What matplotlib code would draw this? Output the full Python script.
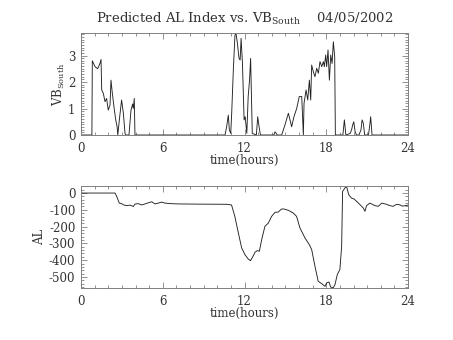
import matplotlib
matplotlib.use('Agg')
import matplotlib.pyplot as plt
from matplotlib.ticker import MultipleLocator

# ---- data ----
vb_hours = [0.0, 0.80, 0.83, 1.03, 1.22, 1.39, 1.47, 1.52, 1.64, 1.76, 1.88, 2.00, 2.13,
            2.20, 2.30, 2.45, 2.55, 2.65, 2.70, 2.84, 2.98, 3.11, 3.23, 3.28, 3.52, 3.67,
            3.79, 3.84, 3.91, 3.96,
            10.57, 10.69, 10.81, 10.89, 10.99, 11.06, 11.18, 11.30, 11.38, 11.48, 11.60,
            11.68, 11.75, 11.85, 11.97, 12.05, 12.17, 12.27, 12.37, 12.45, 12.50, 12.57,
            12.87, 12.97, 13.07, 13.17,
            14.16, 14.24, 14.41, 14.73, 14.97, 15.22, 15.34, 15.46, 15.63, 15.83, 16.02,
            16.20, 16.32, 16.37, 16.52, 16.64, 16.76, 16.86, 16.93, 17.05, 17.17, 17.30,
            17.42, 17.54, 17.67, 17.79, 17.86, 17.96, 18.03, 18.13, 18.23, 18.33, 18.43,
            18.52, 18.62, 18.67,
            19.22, 19.33, 19.44, 19.76, 19.86, 19.94, 20.02, 20.12, 20.22, 20.40, 20.55,
            20.63, 20.72, 20.82, 21.10, 21.20, 21.26, 21.36, 24.0]
vb_values = [0.0, 0.0, 2.80, 2.58, 2.50, 2.70, 2.85, 1.70, 1.57, 1.26, 1.38, 0.94, 1.13,
             2.07, 1.57, 0.94, 0.57, 0.31, 0.0, 0.69, 1.32, 0.82, 0.06, 0.0, 0.0, 0.94,
             1.17, 1.00, 1.38, 0.0,
             0.0, 0.31, 0.75, 0.19, 0.06, 0.82, 2.45, 3.77, 3.82, 3.46, 2.89,
             2.83, 3.65, 2.70, 0.57, 0.69, 0.06, 1.45, 2.07, 2.89, 1.70, 0.06,
             0.0, 0.69, 0.31, 0.0,
             0.0, 0.12, 0.0, 0.0, 0.38, 0.82, 0.57, 0.31, 0.69, 1.00, 1.45,
             1.45, 0.0, 1.20, 1.70, 1.32, 2.07, 1.32, 2.64, 2.39, 2.20, 2.52,
             2.33, 2.77, 2.58, 2.77, 2.58, 3.02, 2.58, 3.21, 2.07, 3.02, 2.70,
             3.52, 2.96, 0.0,
             0.0, 0.57, 0.0, 0.06, 0.20, 0.38, 0.50, 0.12, 0.0, 0.0, 0.20,
             0.57, 0.45, 0.0, 0.0, 0.40, 0.69, 0.0, 0.0]

al_hours = [0.0, 2.50, 2.62, 2.81, 2.98, 3.10, 3.35, 3.60, 3.84, 3.96, 4.20, 4.45, 4.70,
            4.95, 5.19, 5.43, 5.67, 5.92, 6.16, 6.41, 6.80, 7.26, 8.50, 10.68, 11.05,
            11.29, 11.55, 11.79, 12.03, 12.27, 12.44, 12.60, 12.77, 12.94, 13.09, 13.26,
            13.50, 13.75, 13.99, 14.24, 14.48, 14.72, 14.89, 15.22, 15.58, 15.82, 16.07,
            16.44, 16.76, 16.93, 17.17, 17.41, 17.66, 17.91, 18.03, 18.20, 18.32, 18.51,
            18.64, 18.81, 19.00, 19.13, 19.20, 19.37, 19.49, 19.65, 19.85, 20.05, 20.36,
            20.72, 20.84, 20.96, 21.20, 21.57, 21.82, 22.07, 22.43, 22.67, 22.91, 23.17,
            23.38, 23.60, 24.00]
al_values = [0, 0, -20, -60, -63, -70, -75, -72, -80, -66, -63, -71, -65,
             -58, -52, -65, -60, -54, -60, -62, -64, -65, -66, -67, -71,
             -139, -238, -327, -367, -393, -403, -381, -353, -343, -347, -278,
             -198, -179, -139, -115, -113, -95, -95, -103, -119, -139, -208,
             -268, -308, -337, -436, -526, -540, -556, -536, -530, -560, -565,
             -546, -486, -456, -317, 10, 30, 40, -10, -30, -36, -60,
             -89, -109, -75, -60, -75, -79, -60, -67, -75, -79, -67,
             -70, -78, -72]

x_ticks = [0, 6, 12, 18, 24]
vb_ticks = [0, 1, 2, 3]
al_ticks = [0, -100, -200, -300, -400, -500]
title_text = r'Predicted AL Index vs. VB$_{\mathrm{South}}$    04/05/2002'
x_label = 'time(hours)'
vb_label = r'VB$_{\mathrm{South}}$'
al_label = 'AL'

plt.rcParams['font.family'] = ['DejaVu Serif']
plt.rcParams['mathtext.fontset'] = 'dejavuserif'
plt.rcParams['axes.unicode_minus'] = False

W, H = 453, 340
fig = plt.figure(figsize=(W / 100, H / 100), dpi=100)
ax1 = fig.add_axes([81 / W, 1 - 135 / H, 327 / W, 102 / H])
ax2 = fig.add_axes([81 / W, 1 - 288 / H, 327 / W, 102 / H])

text_c = '#333333'
line_c = '#222222'
frame_c = '#808080'

ax1.plot(vb_hours, vb_values, color=line_c, lw=0.65)
ax2.plot(al_hours, al_values, color=line_c, lw=0.65)

ax1.set_ylim(0, 3.85)
ax2.set_ylim(-566, 42)
ax1.set_yticks(vb_ticks)
ax2.set_yticks(al_ticks)
ax1.yaxis.set_minor_locator(MultipleLocator(0.1))
ax2.yaxis.set_minor_locator(MultipleLocator(20))

for ax in (ax1, ax2):
    ax.set_xlim(0, 24)
    ax.set_xticks(x_ticks)
    ax.xaxis.set_minor_locator(MultipleLocator(1))
    ax.tick_params(which='both', direction='in', top=True, right=True,
                   colors=frame_c, labelcolor=text_c, labelsize=8.5, width=0.6)
    ax.tick_params(which='major', length=4.5)
    ax.tick_params(which='minor', length=2)
    ax.tick_params(axis='x', pad=5)
    ax.tick_params(axis='y', pad=4)
    for s in ax.spines.values():
        s.set_color(frame_c)
        s.set_linewidth(0.7)
    ax.set_xlabel(x_label, fontsize=8.5, color=text_c, labelpad=-1)

ax1.set_ylabel(vb_label, fontsize=8.5, color=text_c, labelpad=1)
ax2.set_ylabel(al_label, fontsize=8.5, color=text_c, labelpad=2)
ax1.set_title(title_text, fontsize=9.5, color=text_c, pad=7)

fig.savefig('out.png', dpi=100)
